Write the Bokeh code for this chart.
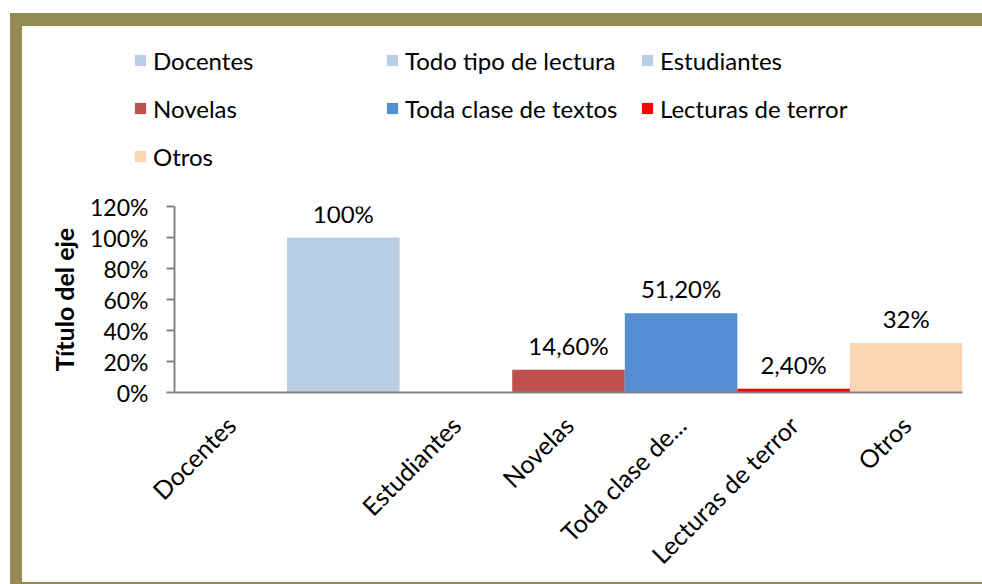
from bokeh.plotting import figure
from bokeh.layouts import column
from bokeh.models import (ColumnDataSource, FixedTicker, NumeralTickFormatter,
                          Legend, LegendItem, LabelSet, Range1d)
from bokeh.core.properties import value
from bokeh.embed import file_html
from bokeh.resources import INLINE
from math import pi

categories = ["Docentes", "Todo tipo de lectura", "Estudiantes", "Novelas",
              "Toda clase de textos", "Lecturas de terror", "Otros"]
values = [0.0, 1.00, 0.0, 0.146, 0.512, 0.024, 0.32]
colors = ["#B9CDE5", "#B9CDE5", "#B9CDE5", "#C0504D", "#558ED5", "#FF0000", "#FCD5B5"]
value_labels = ["", "100%", "", "14,60%", "51,20%", "2,40%", "32%"]
axis_labels = ["Docentes", "", "Estudiantes", "Novelas", "Toda clase de...",
               "Lecturas de terror", "Otros"]
y_ticks = [0, 0.2, 0.4, 0.6, 0.8, 1.0, 1.2]
legend_columns = [[0, 3, 6], [1, 4], [2, 5]]

FONT = "Lato"
FS = "23px"
FRAME = "#948A54"
AXIS = "#868686"

xpos = [i + 0.5 for i in range(len(categories))]
source = ColumnDataSource(dict(x=xpos, val=values, color=colors))
lab_idx = [i for i, t in enumerate(value_labels) if t]
lab_source = ColumnDataSource(dict(x=[xpos[i] for i in lab_idx],
                                   val=[values[i] for i in lab_idx],
                                   txt=[value_labels[i] for i in lab_idx]))

# ---- legend strip (top) ----
top = figure(width=960, height=150, x_range=Range1d(1000, 1001),
             y_range=Range1d(1000, 1001),
             x_axis_type=None, y_axis_type=None, output_backend="svg",
             toolbar_location=None, min_border=0, outline_line_color=None,
             background_fill_color="white", border_fill_color="white")
top.frame_align = False
top.xgrid.grid_line_color = None
top.ygrid.grid_line_color = None
rl = top.vbar(x="x", top="val", width=1.0, color="color", line_color=None, source=source)

leg_x = [111, 363, 618]
for col, lx in zip(legend_columns, leg_x):
    n = len(col)
    bottom_px = 34 + 48 * (n - 1) + 14.5
    items = [LegendItem(label=categories[i], renderers=[rl], index=i) for i in col]
    leg = Legend(items=items, location=(lx, 150 - bottom_px), orientation="vertical",
                 glyph_width=14, glyph_height=14, label_height=14, spacing=19,
                 label_standoff=6, padding=0, margin=0, border_line_color=None,
                 background_fill_alpha=0, label_text_font=FONT,
                 label_text_font_size="24px", label_text_color="black")
    top.add_layout(leg, "center")

# ---- main chart ----
p = figure(x_range=Range1d(0, len(categories)), y_range=Range1d(0, 1.2),
           output_backend="svg", toolbar_location=None,
           frame_width=788, frame_height=186,
           min_border_left=152, min_border_right=20, min_border_top=30,
           min_border_bottom=188, background_fill_color="white",
           border_fill_color="white", outline_line_color=None)
p.frame_align = False

r = p.vbar(x="x", top="val", width=1.0, color="color", line_color=None, source=source)

p.add_layout(LabelSet(x="x", y="val", text="txt", source=lab_source,
                      text_align="center", text_baseline="bottom", y_offset=10,
                      text_font=value(FONT), text_font_size=value("24px"),
                      text_color="black"))

p.xgrid.grid_line_color = None
p.ygrid.grid_line_color = None

p.yaxis.ticker = FixedTicker(ticks=y_ticks)
p.yaxis.formatter = NumeralTickFormatter(format="0%")
p.yaxis.axis_label = "Título del eje"
p.yaxis.axis_label_text_font = FONT
p.yaxis.axis_label_text_font_size = "25px"
p.yaxis.axis_label_text_font_style = "bold"
p.yaxis.axis_label_text_color = "black"
p.yaxis.axis_label_standoff = 8
p.yaxis.major_tick_out = 8
p.yaxis.major_tick_in = 0
p.yaxis.minor_tick_line_color = None
p.yaxis.major_label_standoff = 18
p.yaxis.major_tick_line_color = AXIS
p.yaxis.major_tick_line_width = 2

xt = [xpos[i] for i, t in enumerate(axis_labels) if t]
p.xaxis.ticker = FixedTicker(ticks=xt)
p.xaxis.major_label_overrides = {xpos[i]: t for i, t in enumerate(axis_labels) if t}
p.xaxis.major_label_orientation = pi / 4
p.xaxis.major_tick_line_color = None
p.xaxis.minor_tick_line_color = None
p.xaxis.major_label_standoff = 22

for ax in (p.xaxis, p.yaxis):
    ax.axis_line_color = AXIS
    ax.axis_line_width = 2
    ax.major_label_text_font = FONT
    ax.major_label_text_font_size = FS
    ax.major_label_text_color = "black"
p.xaxis.major_label_text_font_size = "25px"

layout = column(top, p, spacing=0)
layout.styles = {"margin-left": "10px", "margin-top": "13px",
                 "border-left": f"12px solid {FRAME}", "border-top": f"13px solid {FRAME}",
                 "border-bottom": f"4px solid {FRAME}"}

open("out.html", "w").write(file_html(layout, INLINE))
